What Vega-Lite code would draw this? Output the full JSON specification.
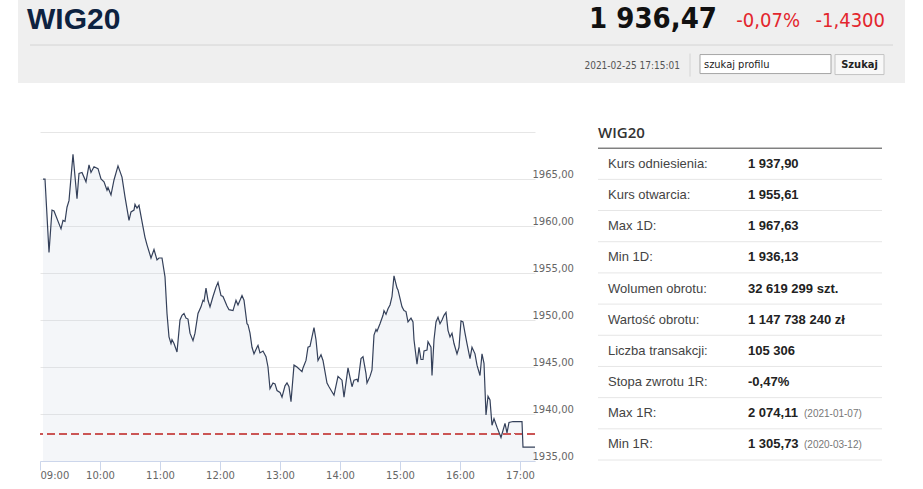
{
  "$schema": "https://vega.github.io/schema/vega-lite/v6.json",
  "description": "WIG20 intraday quote page: header, intraday line chart and statistics table.",
  "background": "white",
  "padding": {"left": 18, "top": 0, "right": 0, "bottom": 0},
  "bounds": "flush",
  "spacing": 34,
  "config": {
    "view": {"stroke": null},
    "text": {"font": "Liberation Sans"}
  },
  "datasets": {
    "head": [
      {"part": "name", "text": "WIG20"},
      {"part": "price", "text": "1 936,47"},
      {"part": "pct", "text": "-0,07%"},
      {"part": "chg", "text": "-1,4300"},
      {"part": "date", "text": "2021-02-25 17:15:01"},
      {"part": "input", "text": "szukaj profilu"},
      {"part": "button", "text": "Szukaj"}
    ],
    "wig": [
      {"t": "2021-02-25 09:03", "v": 1965.0},
      {"t": "2021-02-25 09:05", "v": 1965.0},
      {"t": "2021-02-25 09:09", "v": 1957.2},
      {"t": "2021-02-25 09:12", "v": 1961.7},
      {"t": "2021-02-25 09:14", "v": 1961.6},
      {"t": "2021-02-25 09:21", "v": 1959.7},
      {"t": "2021-02-25 09:23", "v": 1960.6},
      {"t": "2021-02-25 09:25", "v": 1960.5},
      {"t": "2021-02-25 09:27", "v": 1962.0},
      {"t": "2021-02-25 09:29", "v": 1962.7},
      {"t": "2021-02-25 09:33", "v": 1967.63},
      {"t": "2021-02-25 09:37", "v": 1962.9},
      {"t": "2021-02-25 09:39", "v": 1965.6},
      {"t": "2021-02-25 09:42", "v": 1965.7},
      {"t": "2021-02-25 09:46", "v": 1964.7},
      {"t": "2021-02-25 09:49", "v": 1966.5},
      {"t": "2021-02-25 09:51", "v": 1965.7},
      {"t": "2021-02-25 09:54", "v": 1966.3},
      {"t": "2021-02-25 09:58", "v": 1966.1},
      {"t": "2021-02-25 10:01", "v": 1965.0},
      {"t": "2021-02-25 10:04", "v": 1964.7},
      {"t": "2021-02-25 10:07", "v": 1963.8},
      {"t": "2021-02-25 10:08", "v": 1964.1},
      {"t": "2021-02-25 10:11", "v": 1963.3},
      {"t": "2021-02-25 10:14", "v": 1964.9},
      {"t": "2021-02-25 10:18", "v": 1966.4},
      {"t": "2021-02-25 10:22", "v": 1965.2},
      {"t": "2021-02-25 10:25", "v": 1963.1},
      {"t": "2021-02-25 10:29", "v": 1960.6},
      {"t": "2021-02-25 10:31", "v": 1961.5},
      {"t": "2021-02-25 10:34", "v": 1961.7},
      {"t": "2021-02-25 10:35", "v": 1962.3},
      {"t": "2021-02-25 10:37", "v": 1961.9},
      {"t": "2021-02-25 10:39", "v": 1962.2},
      {"t": "2021-02-25 10:43", "v": 1959.9},
      {"t": "2021-02-25 10:45", "v": 1958.8},
      {"t": "2021-02-25 10:47", "v": 1958.0},
      {"t": "2021-02-25 10:51", "v": 1956.6},
      {"t": "2021-02-25 10:54", "v": 1957.5},
      {"t": "2021-02-25 10:57", "v": 1956.4},
      {"t": "2021-02-25 10:59", "v": 1956.6},
      {"t": "2021-02-25 11:02", "v": 1956.6},
      {"t": "2021-02-25 11:05", "v": 1954.6},
      {"t": "2021-02-25 11:07", "v": 1950.7},
      {"t": "2021-02-25 11:09", "v": 1948.2},
      {"t": "2021-02-25 11:11", "v": 1947.5},
      {"t": "2021-02-25 11:12", "v": 1947.9},
      {"t": "2021-02-25 11:14", "v": 1947.5},
      {"t": "2021-02-25 11:17", "v": 1946.6},
      {"t": "2021-02-25 11:20", "v": 1950.0},
      {"t": "2021-02-25 11:22", "v": 1950.5},
      {"t": "2021-02-25 11:24", "v": 1950.7},
      {"t": "2021-02-25 11:26", "v": 1950.2},
      {"t": "2021-02-25 11:28", "v": 1950.1},
      {"t": "2021-02-25 11:30", "v": 1948.6},
      {"t": "2021-02-25 11:33", "v": 1947.8},
      {"t": "2021-02-25 11:35", "v": 1948.6},
      {"t": "2021-02-25 11:38", "v": 1950.7},
      {"t": "2021-02-25 11:41", "v": 1951.4},
      {"t": "2021-02-25 11:43", "v": 1952.1},
      {"t": "2021-02-25 11:44", "v": 1952.0},
      {"t": "2021-02-25 11:46", "v": 1953.4},
      {"t": "2021-02-25 11:48", "v": 1952.1},
      {"t": "2021-02-25 11:50", "v": 1951.4},
      {"t": "2021-02-25 11:53", "v": 1952.5},
      {"t": "2021-02-25 11:56", "v": 1953.5},
      {"t": "2021-02-25 11:58", "v": 1954.0},
      {"t": "2021-02-25 12:01", "v": 1952.6},
      {"t": "2021-02-25 12:03", "v": 1952.5},
      {"t": "2021-02-25 12:07", "v": 1951.5},
      {"t": "2021-02-25 12:09", "v": 1951.1},
      {"t": "2021-02-25 12:13", "v": 1951.0},
      {"t": "2021-02-25 12:16", "v": 1952.1},
      {"t": "2021-02-25 12:18", "v": 1951.6},
      {"t": "2021-02-25 12:22", "v": 1952.6},
      {"t": "2021-02-25 12:24", "v": 1952.1},
      {"t": "2021-02-25 12:27", "v": 1949.6},
      {"t": "2021-02-25 12:28", "v": 1949.5},
      {"t": "2021-02-25 12:30", "v": 1948.6},
      {"t": "2021-02-25 12:32", "v": 1947.1},
      {"t": "2021-02-25 12:34", "v": 1946.4},
      {"t": "2021-02-25 12:37", "v": 1947.1},
      {"t": "2021-02-25 12:38", "v": 1947.3},
      {"t": "2021-02-25 12:40", "v": 1946.5},
      {"t": "2021-02-25 12:43", "v": 1946.7},
      {"t": "2021-02-25 12:46", "v": 1946.1},
      {"t": "2021-02-25 12:48", "v": 1945.0},
      {"t": "2021-02-25 12:50", "v": 1942.7},
      {"t": "2021-02-25 12:53", "v": 1943.3},
      {"t": "2021-02-25 12:55", "v": 1943.2},
      {"t": "2021-02-25 12:57", "v": 1942.5},
      {"t": "2021-02-25 13:00", "v": 1942.3},
      {"t": "2021-02-25 13:02", "v": 1941.8},
      {"t": "2021-02-25 13:05", "v": 1943.0},
      {"t": "2021-02-25 13:07", "v": 1943.3},
      {"t": "2021-02-25 13:09", "v": 1942.9},
      {"t": "2021-02-25 13:11", "v": 1941.3},
      {"t": "2021-02-25 13:14", "v": 1945.2},
      {"t": "2021-02-25 13:17", "v": 1945.0},
      {"t": "2021-02-25 13:22", "v": 1944.5},
      {"t": "2021-02-25 13:23", "v": 1944.9},
      {"t": "2021-02-25 13:26", "v": 1945.7},
      {"t": "2021-02-25 13:28", "v": 1947.1},
      {"t": "2021-02-25 13:30", "v": 1947.2},
      {"t": "2021-02-25 13:32", "v": 1948.2},
      {"t": "2021-02-25 13:34", "v": 1949.2},
      {"t": "2021-02-25 13:36", "v": 1947.9},
      {"t": "2021-02-25 13:38", "v": 1945.7},
      {"t": "2021-02-25 13:41", "v": 1946.3},
      {"t": "2021-02-25 13:43", "v": 1945.7},
      {"t": "2021-02-25 13:47", "v": 1943.3},
      {"t": "2021-02-25 13:49", "v": 1942.9},
      {"t": "2021-02-25 13:54", "v": 1942.0},
      {"t": "2021-02-25 13:58", "v": 1944.0},
      {"t": "2021-02-25 14:02", "v": 1943.6},
      {"t": "2021-02-25 14:04", "v": 1941.8},
      {"t": "2021-02-25 14:08", "v": 1944.9},
      {"t": "2021-02-25 14:12", "v": 1942.9},
      {"t": "2021-02-25 14:14", "v": 1943.6},
      {"t": "2021-02-25 14:17", "v": 1943.7},
      {"t": "2021-02-25 14:18", "v": 1943.4},
      {"t": "2021-02-25 14:21", "v": 1945.9},
      {"t": "2021-02-25 14:23", "v": 1946.1},
      {"t": "2021-02-25 14:26", "v": 1944.3},
      {"t": "2021-02-25 14:27", "v": 1943.3},
      {"t": "2021-02-25 14:30", "v": 1944.0},
      {"t": "2021-02-25 14:32", "v": 1944.7},
      {"t": "2021-02-25 14:34", "v": 1948.4},
      {"t": "2021-02-25 14:36", "v": 1949.0},
      {"t": "2021-02-25 14:37", "v": 1948.8},
      {"t": "2021-02-25 14:40", "v": 1949.6},
      {"t": "2021-02-25 14:43", "v": 1950.5},
      {"t": "2021-02-25 14:44", "v": 1951.0},
      {"t": "2021-02-25 14:46", "v": 1950.6},
      {"t": "2021-02-25 14:48", "v": 1951.2},
      {"t": "2021-02-25 14:50", "v": 1951.6},
      {"t": "2021-02-25 14:52", "v": 1952.5},
      {"t": "2021-02-25 14:54", "v": 1954.7},
      {"t": "2021-02-25 14:57", "v": 1953.4},
      {"t": "2021-02-25 14:58", "v": 1953.2},
      {"t": "2021-02-25 15:00", "v": 1952.3},
      {"t": "2021-02-25 15:02", "v": 1951.4},
      {"t": "2021-02-25 15:04", "v": 1951.0},
      {"t": "2021-02-25 15:06", "v": 1950.9},
      {"t": "2021-02-25 15:08", "v": 1949.8},
      {"t": "2021-02-25 15:11", "v": 1950.2},
      {"t": "2021-02-25 15:13", "v": 1949.8},
      {"t": "2021-02-25 15:14", "v": 1947.9},
      {"t": "2021-02-25 15:17", "v": 1945.3},
      {"t": "2021-02-25 15:19", "v": 1947.1},
      {"t": "2021-02-25 15:21", "v": 1945.8},
      {"t": "2021-02-25 15:23", "v": 1945.8},
      {"t": "2021-02-25 15:24", "v": 1946.7},
      {"t": "2021-02-25 15:27", "v": 1946.8},
      {"t": "2021-02-25 15:28", "v": 1947.7},
      {"t": "2021-02-25 15:31", "v": 1947.1},
      {"t": "2021-02-25 15:32", "v": 1944.1},
      {"t": "2021-02-25 15:34", "v": 1947.9},
      {"t": "2021-02-25 15:36", "v": 1949.8},
      {"t": "2021-02-25 15:38", "v": 1950.3},
      {"t": "2021-02-25 15:40", "v": 1949.6},
      {"t": "2021-02-25 15:42", "v": 1950.0},
      {"t": "2021-02-25 15:44", "v": 1950.5},
      {"t": "2021-02-25 15:46", "v": 1950.8},
      {"t": "2021-02-25 15:48", "v": 1948.9},
      {"t": "2021-02-25 15:50", "v": 1948.2},
      {"t": "2021-02-25 15:52", "v": 1948.6},
      {"t": "2021-02-25 15:54", "v": 1947.5},
      {"t": "2021-02-25 15:57", "v": 1946.4},
      {"t": "2021-02-25 15:59", "v": 1947.1},
      {"t": "2021-02-25 16:01", "v": 1949.9},
      {"t": "2021-02-25 16:03", "v": 1949.8},
      {"t": "2021-02-25 16:05", "v": 1948.6},
      {"t": "2021-02-25 16:07", "v": 1947.5},
      {"t": "2021-02-25 16:10", "v": 1945.9},
      {"t": "2021-02-25 16:12", "v": 1947.1},
      {"t": "2021-02-25 16:15", "v": 1946.4},
      {"t": "2021-02-25 16:17", "v": 1945.2},
      {"t": "2021-02-25 16:20", "v": 1944.1},
      {"t": "2021-02-25 16:22", "v": 1946.4},
      {"t": "2021-02-25 16:24", "v": 1945.4},
      {"t": "2021-02-25 16:26", "v": 1939.9},
      {"t": "2021-02-25 16:28", "v": 1941.9},
      {"t": "2021-02-25 16:30", "v": 1941.5},
      {"t": "2021-02-25 16:32", "v": 1938.8},
      {"t": "2021-02-25 16:34", "v": 1939.5},
      {"t": "2021-02-25 16:37", "v": 1938.6},
      {"t": "2021-02-25 16:41", "v": 1937.5},
      {"t": "2021-02-25 16:45", "v": 1939.0},
      {"t": "2021-02-25 16:47", "v": 1938.0},
      {"t": "2021-02-25 16:49", "v": 1939.1},
      {"t": "2021-02-25 16:53", "v": 1939.2},
      {"t": "2021-02-25 17:02", "v": 1939.2},
      {"t": "2021-02-25 17:03", "v": 1936.47},
      {"t": "2021-02-25 17:15", "v": 1936.47}
    ],
    "stats": [
      {"label": "WIG20", "value": "", "note": "", "kind": "head"},
      {"label": "Kurs odniesienia:", "value": "1 937,90", "note": "", "kind": "row"},
      {"label": "Kurs otwarcia:", "value": "1 955,61", "note": "", "kind": "row"},
      {"label": "Max 1D:", "value": "1 967,63", "note": "", "kind": "row"},
      {"label": "Min 1D:", "value": "1 936,13", "note": "", "kind": "row"},
      {"label": "Wolumen obrotu:", "value": "32 619 299 szt.", "note": "", "kind": "row"},
      {"label": "Wartość obrotu:", "value": "1 147 738 240 zł", "note": "", "kind": "row"},
      {"label": "Liczba transakcji:", "value": "105 306", "note": "", "kind": "row"},
      {"label": "Stopa zwrotu 1R:", "value": "-0,47%", "note": "", "kind": "row"},
      {"label": "Max 1R:", "value": "2 074,11", "note": "(2021-01-07)", "kind": "row"},
      {"label": "Min 1R:", "value": "1 305,73", "note": "(2020-03-12)", "kind": "row"}
    ]
  },
  "vconcat": [
    {
      "width": 887,
      "height": 83,
      "view": {"fill": "#efefef", "stroke": null},
      "data": {"name": "head"},
      "layer": [
        {
          "transform": [{"filter": "datum.part == 'name'"}],
          "mark": {"type": "rule", "color": "#d4d4d4", "xOffset": 12, "x2Offset": -12, "yOffset": 26.6},
          "encoding": {
            "x": {"datum": "left", "type": "nominal", "scale": {"type": "point", "domain": ["left", "right"], "padding": 0}, "axis": null},
            "x2": {"datum": "right"},
            "y": {"datum": "top", "type": "nominal", "scale": {"type": "point", "domain": ["top", "bottom"], "padding": 0.4}, "axis": null}
          }
        },
        {
          "transform": [{"filter": "datum.part == 'name'"}],
          "mark": {"type": "text", "align": "left", "baseline": "alphabetic", "dx": 9, "dy": 10.6, "font": "Liberation Sans", "fontSize": 30, "fontWeight": "bold", "color": "#0d2240"},
          "encoding": {
            "x": {"datum": "left", "type": "nominal", "scale": {"type": "point", "domain": ["left", "right"], "padding": 0}, "axis": null},
            "y": {"datum": "top", "type": "nominal", "scale": {"type": "point", "domain": ["top", "bottom"], "padding": 0.4}, "axis": null},
            "text": {"field": "text"}
          }
        },
        {
          "transform": [{"filter": "datum.part == 'price'"}],
          "mark": {"type": "text", "align": "right", "baseline": "middle", "dx": -188, "dy": 1, "font": "DejaVu Sans Condensed, Liberation Sans Narrow, DejaVu Sans", "fontSize": 29, "fontWeight": "bold", "color": "#111111"},
          "encoding": {
            "x": {"datum": "right", "type": "nominal", "scale": {"type": "point", "domain": ["left", "right"], "padding": 0}, "axis": null},
            "y": {"datum": "top", "type": "nominal", "scale": {"type": "point", "domain": ["top", "bottom"], "padding": 0.4}, "axis": null},
            "text": {"field": "text"}
          }
        },
        {
          "transform": [{"filter": "datum.part == 'pct'"}],
          "mark": {"type": "text", "align": "right", "baseline": "middle", "dx": -105, "dy": 3, "font": "DejaVu Sans Condensed, Liberation Sans Narrow, DejaVu Sans", "fontSize": 20, "color": "#e3262d"},
          "encoding": {
            "x": {"datum": "right", "type": "nominal", "scale": {"type": "point", "domain": ["left", "right"], "padding": 0}, "axis": null},
            "y": {"datum": "top", "type": "nominal", "scale": {"type": "point", "domain": ["top", "bottom"], "padding": 0.4}, "axis": null},
            "text": {"field": "text"}
          }
        },
        {
          "transform": [{"filter": "datum.part == 'chg'"}],
          "mark": {"type": "text", "align": "right", "baseline": "middle", "dx": -20, "dy": 3, "font": "DejaVu Sans Condensed, Liberation Sans Narrow, DejaVu Sans", "fontSize": 20, "color": "#e3262d"},
          "encoding": {
            "x": {"datum": "right", "type": "nominal", "scale": {"type": "point", "domain": ["left", "right"], "padding": 0}, "axis": null},
            "y": {"datum": "top", "type": "nominal", "scale": {"type": "point", "domain": ["top", "bottom"], "padding": 0.4}, "axis": null},
            "text": {"field": "text"}
          }
        },
        {
          "transform": [{"filter": "datum.part == 'date'"}],
          "mark": {"type": "text", "align": "right", "baseline": "middle", "dx": -225, "dy": 1, "font": "DejaVu Sans Condensed, Liberation Sans Narrow, DejaVu Sans", "fontSize": 10, "color": "#555555"},
          "encoding": {
            "x": {"datum": "right", "type": "nominal", "scale": {"type": "point", "domain": ["left", "right"], "padding": 0}, "axis": null},
            "y": {"datum": "bottom", "type": "nominal", "scale": {"type": "point", "domain": ["top", "bottom"], "padding": 0.4}, "axis": null},
            "text": {"field": "text"}
          }
        },
        {
          "transform": [{"filter": "datum.part == 'date'"}],
          "mark": {"type": "rule", "color": "#d4d4d4", "xOffset": -215, "x2Offset": -215, "yOffset": -11, "y2Offset": 12},
          "encoding": {
            "x": {"datum": "right", "type": "nominal", "scale": {"type": "point", "domain": ["left", "right"], "padding": 0}, "axis": null},
            "y": {"datum": "bottom", "type": "nominal", "scale": {"type": "point", "domain": ["top", "bottom"], "padding": 0.4}, "axis": null},
            "y2": {"datum": "bottom"}
          }
        },
        {
          "transform": [{"filter": "datum.part == 'input'"}],
          "mark": {"type": "rect", "fill": "white", "stroke": "#a6a6a6", "strokeWidth": 1, "xOffset": -205, "x2Offset": -74, "yOffset": -10, "y2Offset": 9},
          "encoding": {
            "x": {"datum": "right", "type": "nominal", "scale": {"type": "point", "domain": ["left", "right"], "padding": 0}, "axis": null},
            "x2": {"datum": "right"},
            "y": {"datum": "bottom", "type": "nominal", "scale": {"type": "point", "domain": ["top", "bottom"], "padding": 0.4}, "axis": null},
            "y2": {"datum": "bottom"}
          }
        },
        {
          "transform": [{"filter": "datum.part == 'input'"}],
          "mark": {"type": "text", "align": "left", "baseline": "middle", "dx": -201, "font": "DejaVu Sans Condensed, Liberation Sans Narrow, DejaVu Sans", "fontSize": 11, "color": "#222222"},
          "encoding": {
            "x": {"datum": "right", "type": "nominal", "scale": {"type": "point", "domain": ["left", "right"], "padding": 0}, "axis": null},
            "y": {"datum": "bottom", "type": "nominal", "scale": {"type": "point", "domain": ["top", "bottom"], "padding": 0.4}, "axis": null},
            "text": {"field": "text"}
          }
        },
        {
          "transform": [{"filter": "datum.part == 'button'"}],
          "mark": {"type": "rect", "fill": "#f8f8f8", "stroke": "#c4c4c4", "strokeWidth": 1, "xOffset": -70, "x2Offset": -21, "yOffset": -10, "y2Offset": 10},
          "encoding": {
            "x": {"datum": "right", "type": "nominal", "scale": {"type": "point", "domain": ["left", "right"], "padding": 0}, "axis": null},
            "x2": {"datum": "right"},
            "y": {"datum": "bottom", "type": "nominal", "scale": {"type": "point", "domain": ["top", "bottom"], "padding": 0.4}, "axis": null},
            "y2": {"datum": "bottom"}
          }
        },
        {
          "transform": [{"filter": "datum.part == 'button'"}],
          "mark": {"type": "text", "align": "center", "baseline": "middle", "dx": -45.5, "font": "DejaVu Sans Condensed, Liberation Sans Narrow, DejaVu Sans", "fontSize": 11, "fontWeight": "bold", "color": "#222222"},
          "encoding": {
            "x": {"datum": "right", "type": "nominal", "scale": {"type": "point", "domain": ["left", "right"], "padding": 0}, "axis": null},
            "y": {"datum": "bottom", "type": "nominal", "scale": {"type": "point", "domain": ["top", "bottom"], "padding": 0.4}, "axis": null},
            "text": {"field": "text"}
          }
        }
      ]
    },
    {
      "hconcat": [
        {
          "hconcat": [
            {
              "width": 1,
              "height": 344,
              "data": {"name": "stats"},
              "transform": [{"filter": "false"}],
              "mark": "point"
            },
            {
              "width": 495,
              "height": 344,
              "data": {"name": "wig"},
              "encoding": {
                "x": {
                  "field": "t",
                  "type": "temporal",
                  "scale": {
                    "domain": [
                      {"year": 2021, "month": 2, "date": 25, "hours": 9},
                      {"year": 2021, "month": 2, "date": 25, "hours": 17, "minutes": 15}
                    ],
                    "nice": false
                  },
                  "axis": {
                    "values": [
                      {"year": 2021, "month": 2, "date": 25, "hours": 9},
                      {"year": 2021, "month": 2, "date": 25, "hours": 10},
                      {"year": 2021, "month": 2, "date": 25, "hours": 11},
                      {"year": 2021, "month": 2, "date": 25, "hours": 12},
                      {"year": 2021, "month": 2, "date": 25, "hours": 13},
                      {"year": 2021, "month": 2, "date": 25, "hours": 14},
                      {"year": 2021, "month": 2, "date": 25, "hours": 15},
                      {"year": 2021, "month": 2, "date": 25, "hours": 16},
                      {"year": 2021, "month": 2, "date": 25, "hours": 17}
                    ],
                    "format": "%H:%M",
                    "grid": false,
                    "domainColor": "#ccd6eb",
                    "tickColor": "#ccd6eb",
                    "tickSize": 9,
                    "labelPadding": 0,
                    "labelColor": "#666666",
                    "labelFont": "DejaVu Sans",
                    "labelFontSize": 10,
                    "labelFlush": true,
                    "title": null
                  }
                },
                "y": {
                  "field": "v",
                  "type": "quantitative",
                  "scale": {"domain": [1935, 1971.6], "nice": false, "zero": false},
                  "axis": {
                    "orient": "right",
                    "values": [1935, 1940, 1945, 1950, 1955, 1960, 1965, 1970],
                    "labelExpr": "datum.value >= 1970 ? '' : replace(format(datum.value, '.2f'), '.', ',')",
                    "grid": true,
                    "gridColor": "#e6e6e6",
                    "domain": false,
                    "ticks": false,
                    "labelAlign": "left",
                    "labelBaseline": "bottom",
                    "labelPadding": -3,
                    "labelColor": "#666666",
                    "labelFont": "DejaVu Sans",
                    "labelFontSize": 10,
                    "title": null
                  }
                }
              },
              "layer": [
                {
                  "mark": {"type": "area", "color": "#c7d1e2", "opacity": 0.2},
                  "encoding": {"y2": {"datum": 1935}}
                },
                {
                  "mark": {"type": "rule", "color": "#cc5555", "strokeDash": [8, 4], "opacity": 0.8},
                  "encoding": {"y": {"datum": 1937.9}, "x": null}
                },
                {
                  "mark": {"type": "line", "color": "#34405a", "strokeWidth": 1.2}
                }
              ]
            }
          ],
          "spacing": 21,
          "bounds": "flush"
        },
        {
          "width": 284,
          "height": 343,
          "data": {"name": "stats"},
          "encoding": {
            "y": {
              "field": "label",
              "type": "nominal",
              "sort": null,
              "scale": {
                "type": "band",
                "domain": ["WIG20", "Kurs odniesienia:", "Kurs otwarcia:", "Max 1D:", "Min 1D:", "Wolumen obrotu:", "Wartość obrotu:", "Liczba transakcji:", "Stopa zwrotu 1R:", "Max 1R:", "Min 1R:"],
                "paddingInner": 0,
                "paddingOuter": 0
              },
              "axis": null
            }
          },
          "layer": [
            {
              "transform": [{"filter": "datum.kind == 'row'"}],
              "mark": {"type": "rule", "color": "#e6e6e6"},
              "encoding": {"y": {"field": "label", "type": "nominal", "bandPosition": 1}}
            },
            {
              "transform": [{"filter": "datum.kind == 'head'"}],
              "mark": {"type": "rule", "color": "#444444"},
              "encoding": {"y": {"field": "label", "type": "nominal", "bandPosition": 1}}
            },
            {
              "transform": [{"filter": "datum.kind == 'head'"}],
              "mark": {"type": "text", "align": "left", "baseline": "middle", "font": "Open Sans", "fontSize": 15, "fontWeight": 600, "color": "#333333"},
              "encoding": {
                "x": {"datum": "label", "type": "nominal", "scale": {"type": "band", "domain": ["label", "value"], "paddingInner": 0, "paddingOuter": 0}, "bandPosition": 0, "axis": null},
                "text": {"field": "label"}
              }
            },
            {
              "transform": [{"filter": "datum.kind == 'row'"}],
              "mark": {"type": "text", "align": "left", "baseline": "middle", "dx": 10, "font": "Liberation Sans", "fontSize": 13, "color": "#444444"},
              "encoding": {
                "x": {"datum": "label", "type": "nominal", "scale": {"type": "band", "domain": ["label", "value"], "paddingInner": 0, "paddingOuter": 0}, "bandPosition": 0, "axis": null},
                "text": {"field": "label"}
              }
            },
            {
              "transform": [{"filter": "datum.kind == 'row'"}],
              "mark": {"type": "text", "align": "left", "baseline": "middle", "dx": 8, "font": "Liberation Sans", "fontSize": 13, "fontWeight": "bold", "color": "#222222"},
              "encoding": {
                "x": {"datum": "value", "type": "nominal", "scale": {"type": "band", "domain": ["label", "value"], "paddingInner": 0, "paddingOuter": 0}, "bandPosition": 0, "axis": null},
                "text": {"field": "value"}
              }
            },
            {
              "transform": [{"filter": "datum.kind == 'row' && datum.note != ''"}],
              "mark": {"type": "text", "align": "left", "baseline": "middle", "dx": 64, "dy": 1, "font": "Liberation Sans", "fontSize": 10, "color": "#777777"},
              "encoding": {
                "x": {"datum": "value", "type": "nominal", "scale": {"type": "band", "domain": ["label", "value"], "paddingInner": 0, "paddingOuter": 0}, "bandPosition": 0, "axis": null},
                "text": {"field": "note"}
              }
            }
          ]
        }
      ],
      "spacing": 23,
      "bounds": "full"
    }
  ]
}
